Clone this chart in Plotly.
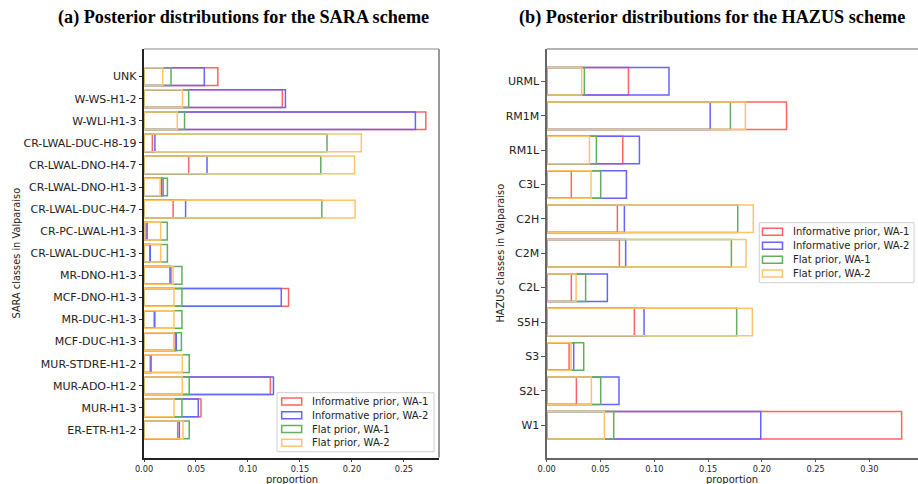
import plotly.graph_objects as go

# SARA building classes (listed top to bottom)
sara_classes = [
    "UNK", "W-WS-H1-2", "W-WLI-H1-3", "CR-LWAL-DUC-H8-19", "CR-LWAL-DNO-H4-7",
    "CR-LWAL-DNO-H1-3", "CR-LWAL-DUC-H4-7", "CR-PC-LWAL-H1-3", "CR-LWAL-DUC-H1-3",
    "MR-DNO-H1-3", "MCF-DNO-H1-3", "MR-DUC-H1-3", "MCF-DUC-H1-3",
    "MUR-STDRE-H1-2", "MUR-ADO-H1-2", "MUR-H1-3", "ER-ETR-H1-2",
]
sara_inf_wa1 = [0.071, 0.133, 0.271, 0.008, 0.043, 0.0185, 0.028, 0.002, 0.0055,
                0.026, 0.139, 0.0105, 0.030, 0.006, 0.1215, 0.0548, 0.0324]
sara_inf_wa2 = [0.058, 0.136, 0.261, 0.0105, 0.0606, 0.017, 0.040, 0.003, 0.006,
                0.025, 0.132, 0.0099, 0.031, 0.0068, 0.1245, 0.0522, 0.034]
sara_flat_wa1 = [0.026, 0.043, 0.039, 0.176, 0.170, 0.0225, 0.171, 0.0224, 0.0225,
                 0.0365, 0.0365, 0.0365, 0.036, 0.0435, 0.0435, 0.0365, 0.0435]
sara_flat_wa2 = [0.018, 0.037, 0.032, 0.209, 0.2025, 0.0155, 0.203, 0.016, 0.016,
                 0.028, 0.0288, 0.0288, 0.0285, 0.0368, 0.0368, 0.0288, 0.0375]

# HAZUS building classes (listed top to bottom)
hazus_classes = ["URML", "RM1M", "RM1L", "C3L", "C2H", "C2M", "C2L", "S5H", "S3", "S2L", "W1"]
hazus_inf_wa1 = [0.076, 0.223, 0.0707, 0.0229, 0.0657, 0.0676, 0.0229, 0.0815, 0.0208, 0.0276, 0.330]
hazus_inf_wa2 = [0.1137, 0.152, 0.0862, 0.0741, 0.0722, 0.0734, 0.0564, 0.0905, 0.0251, 0.0672, 0.199]
hazus_flat_wa1 = [0.035, 0.1708, 0.0462, 0.0502, 0.1776, 0.1717, 0.0362, 0.1766, 0.0344, 0.0502, 0.0623]
hazus_flat_wa2 = [0.0325, 0.1847, 0.0397, 0.0412, 0.1921, 0.1853, 0.0273, 0.1912, 0.0226, 0.0415, 0.0536]

series_names = ["Informative prior, WA-1", "Informative prior, WA-2",
                "Flat prior, WA-1", "Flat prior, WA-2"]
edge_colors = ["rgb(255,100,100)", "rgb(100,100,255)",
               "rgb(95,175,95)", "rgb(255,195,105)"]

W, H = 918, 484
FONT = "DejaVu Sans"
TXT = "#222222"


def px_x(p):
    return p / W


def px_y(p):
    return 1 - p / H


fig = go.Figure()

panels = [
    (sara_classes, [sara_inf_wa1, sara_inf_wa2, sara_flat_wa1, sara_flat_wa2], "x", "y"),
    (hazus_classes, [hazus_inf_wa1, hazus_inf_wa2, hazus_flat_wa1, hazus_flat_wa2], "x2", "y2"),
]
for classes, series, xa, ya in panels:
    for name, vals, col in zip(series_names, series, edge_colors):
        fig.add_trace(go.Bar(
            x=vals, y=classes, orientation="h", name=name,
            width=0.8, xaxis=xa, yaxis=ya, showlegend=False,
            marker=dict(color="rgba(0,0,0,0)", line=dict(color=col, width=1.5)),
            hoverinfo="x+y+name",
        ))

left_dom = [px_x(144), px_x(439)]
right_dom = [px_x(546.7), 1.0]
y_dom = [px_y(457.5), px_y(49)]

tick_font = dict(family=FONT, size=8.2, color=TXT)
ytick_font = dict(family=FONT, size=11, color=TXT)

fig.update_layout(
    width=W, height=H,
    margin=dict(l=0, r=0, t=0, b=0, autoexpand=False),
    paper_bgcolor="white", plot_bgcolor="white",
    barmode="overlay",
    showlegend=False,
    xaxis=dict(domain=left_dom, range=[0, 0.2837], anchor="y", automargin=False,
               tickvals=[0, 0.05, 0.10, 0.15, 0.20, 0.25],
               ticktext=["0.00", "0.05", "0.10", "0.15", "0.20", "0.25"],
               ticks="outside", ticklen=3, tickcolor="#333", tickfont=tick_font,
               showgrid=False, zeroline=False, showline=True, linecolor="#222", linewidth=1.5),
    yaxis=dict(domain=y_dom, anchor="x", type="category", automargin=False,
               categoryorder="array", categoryarray=list(reversed(sara_classes)),
               range=[-1.25, len(sara_classes) - 1 + 1.25],
               ticks="outside", ticklen=3.5, tickcolor="#333", tickfont=ytick_font,
               showgrid=False, zeroline=False, showline=True, linecolor="#222", linewidth=1.5),
    xaxis2=dict(domain=right_dom, range=[0, 0.3452], anchor="y2", automargin=False,
                tickvals=[0, 0.05, 0.10, 0.15, 0.20, 0.25, 0.30],
                ticktext=["0.00", "0.05", "0.10", "0.15", "0.20", "0.25", "0.30"],
                ticks="outside", ticklen=3, tickcolor="#555", tickfont=tick_font,
                showgrid=False, zeroline=False, showline=True, linecolor="#666", linewidth=1.5),
    yaxis2=dict(domain=y_dom, anchor="x2", type="category", automargin=False,
                categoryorder="array", categoryarray=list(reversed(hazus_classes)),
                range=[-0.94, len(hazus_classes) - 1 + 0.94],
                ticks="outside", ticklen=3.5, tickcolor="#555", tickfont=ytick_font,
                showgrid=False, zeroline=False, showline=True, linecolor="#666", linewidth=1.5),
)

# Axes frame: grey top and right edges of the left panel, grey top edge of the right panel
fig.add_shape(type="line", xref="paper", yref="paper",
              x0=left_dom[0], x1=left_dom[1], y0=y_dom[1], y1=y_dom[1],
              line=dict(color="#b0b0b0", width=1.5))
fig.add_shape(type="line", xref="paper", yref="paper",
              x0=left_dom[1], x1=left_dom[1], y0=y_dom[0], y1=y_dom[1],
              line=dict(color="#999999", width=2))
fig.add_shape(type="line", xref="paper", yref="paper",
              x0=right_dom[0], x1=right_dom[1], y0=y_dom[1], y1=y_dom[1],
              line=dict(color="#999999", width=1.5))


def add_legend(box_left, box_top, box_right, box_bottom, row_y, swatch_x, text_x):
    """Framed key: outlined swatch plus label for each prior / weighting series."""
    fig.add_shape(type="rect", xref="paper", yref="paper",
                  x0=px_x(box_left), x1=px_x(box_right),
                  y0=px_y(box_bottom), y1=px_y(box_top),
                  line=dict(color="#cfcfcf", width=1), fillcolor="white", layer="above")
    for i, (name, col) in enumerate(zip(series_names, edge_colors)):
        yc = row_y[i]
        fig.add_shape(type="rect", xref="paper", yref="paper",
                      x0=px_x(swatch_x), x1=px_x(swatch_x + 20),
                      y0=px_y(yc + 3.5), y1=px_y(yc - 3.5),
                      line=dict(color=col, width=1.5), fillcolor="white", layer="above")
        fig.add_annotation(xref="paper", yref="paper", showarrow=False,
                           x=px_x(text_x), y=px_y(yc), xanchor="left", yanchor="middle",
                           text=name, font=dict(family=FONT, size=10, color=TXT))


add_legend(277, 392.7, 434, 451.7, [401.5, 415.2, 429.0, 442.7], 281.7, 310)
add_legend(759.3, 222.7, 914, 282.7, [231.7, 245.7, 259.7, 273.5], 762.5, 791)

title_font = dict(family="Liberation Serif", size=18.2, color="black")
annotations = [
    dict(text="<b>(a) Posterior distributions for the SARA scheme</b>",
         x=px_x(243), y=px_y(18), font=title_font),
    dict(text="<b>(b) Posterior distributions for the HAZUS scheme</b>",
         x=px_x(712), y=px_y(18), font=title_font),
    dict(text="proportion", x=px_x(291.5), y=px_y(479), font=dict(family=FONT, size=10, color=TXT)),
    dict(text="proportion", x=px_x(732), y=px_y(479), font=dict(family=FONT, size=10, color=TXT)),
    dict(text="SARA classes in Valparaiso", x=px_x(16), y=px_y(253.5), textangle=-90,
         font=dict(family=FONT, size=9.8, color=TXT)),
    dict(text="HAZUS classes in Valparaiso", x=px_x(500), y=px_y(253.5), textangle=-90,
         font=dict(family=FONT, size=9.8, color=TXT)),
]
for a in annotations:
    fig.add_annotation(xref="paper", yref="paper", showarrow=False,
                       xanchor="center", yanchor="middle", **a)

fig.write_html("out.html")
